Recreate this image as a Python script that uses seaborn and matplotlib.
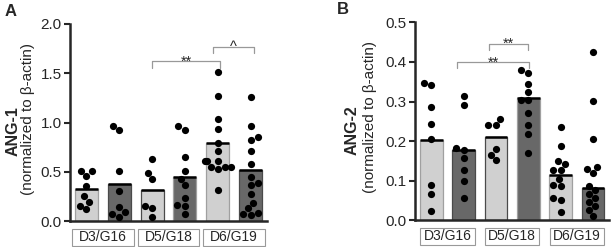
import numpy as np
import pandas as pd
import seaborn as sns
import matplotlib.pyplot as plt
import matplotlib.transforms as mtransforms
from matplotlib.patches import Rectangle

groups = ["D3/G16", "D5/G18", "D6/G19"]
shades = ["light", "dark"]
kleur = {"light": "#d0d0d0", "dark": "#686868"}
rand = {"light": "#a0a0a0", "dark": "#4a4a4a"}

# ANG-1, losse waarden per staaf (links->rechts)
a_d3_light = [0.51, 0.51, 0.46, 0.36, 0.25, 0.19, 0.15, 0.12]
a_d3_dark = [0.96, 0.92, 0.51, 0.31, 0.146, 0.095, 0.07, 0.044]
a_d5_light = [0.63, 0.49, 0.43, 0.156, 0.13, 0.037]
a_d5_dark = [0.96, 0.925, 0.65, 0.51, 0.43, 0.366, 0.23, 0.163, 0.156, 0.07]
a_d6_light = [1.515, 1.264, 1.034, 0.936, 0.79, 0.715, 0.61, 0.61, 0.61,
              0.553, 0.546, 0.553, 0.525, 0.315]
a_d6_dark = [1.258, 0.96, 0.85, 0.82, 0.715, 0.58, 0.45, 0.383, 0.366,
             0.275, 0.186, 0.129, 0.078, 0.07, 0.06]
a_bar = [0.325, 0.38, 0.315, 0.45, 0.79, 0.52]

# ANG-2
b_d3_light = [0.347, 0.341, 0.286, 0.2425, 0.206, 0.09, 0.067, 0.023]
b_d3_dark = [0.313, 0.29, 0.183, 0.177, 0.156, 0.126, 0.0985, 0.056]
b_d5_light = [0.255, 0.24, 0.24, 0.18, 0.165, 0.152]
b_d5_dark = [0.38, 0.372, 0.345, 0.324, 0.305, 0.305, 0.271, 0.24, 0.219, 0.17]
b_d6_light = [0.236, 0.187, 0.150, 0.141, 0.126, 0.126, 0.103, 0.090,
              0.085, 0.055, 0.052, 0.021]
b_d6_dark = [0.425, 0.302, 0.205, 0.135, 0.13, 0.12, 0.086, 0.075, 0.065,
             0.055, 0.045, 0.035, 0.025, 0.01]
b_bar = [0.202, 0.177, 0.211, 0.309, 0.114, 0.08]


def tabellen(punten, staven):
    rij_p, rij_s = [], []
    for i, vals in enumerate(punten):
        g, s = divmod(i, 2)
        pos = g + (s - 0.5) * 0.5
        rij_s.append((pos, shades[s], staven[i]))
        for v in vals:
            rij_p.append((pos, shades[s], v))
    return (pd.DataFrame(rij_p, columns=["pos", "shade", "value"]),
            pd.DataFrame(rij_s, columns=["pos", "shade", "value"]))


def paneel(ax, punten, staven, ymax, ystap, naam, letter, lab_x, box_hw, haken):
    df_p, df_s = tabellen(punten, staven)
    sns.barplot(data=df_s, x="pos", y="value", hue="shade", palette=kleur,
                native_scale=True, dodge=False, width=0.7, errorbar=None,
                legend=False, ax=ax, zorder=2)
    for p, sh in zip(ax.patches, df_s["shade"]):
        p.set_edgecolor(rand[sh])
        p.set_linewidth(0.9)
        ax.plot([p.get_x(), p.get_x() + p.get_width()], [p.get_height()] * 2,
                color="black", lw=1.8, solid_capstyle="butt", zorder=3)
    sns.swarmplot(data=df_p, x="pos", y="value", native_scale=True,
                  color="black", size=5.2, ax=ax, zorder=4)
    ax.set_xlim(-0.5, 2.5)
    ax.set_ylim(0, ymax)
    ticks = np.arange(0, ymax + ystap / 2, ystap)
    ax.set_yticks(ticks)
    ax.set_yticklabels([f"{t:.1f}" for t in ticks])
    ax.set_xticks([])
    ax.set_xlabel("")
    ax.set_ylabel("")
    sns.despine(ax=ax)
    for sp in ["left", "bottom"]:
        ax.spines[sp].set_linewidth(1.8)
    ax.tick_params(axis="y", width=1.5, length=4, labelsize=11, pad=2)

    # groepslabels in kaders
    tr = mtransforms.blended_transform_factory(ax.transData, ax.transAxes)
    for g, naam_g in enumerate(groups):
        ax.add_patch(Rectangle((g - box_hw, -0.124), 2 * box_hw, 0.086,
                               transform=tr, clip_on=False, facecolor="white",
                               edgecolor="#999999", lw=0.8))
        ax.text(g, -0.083, naam_g, transform=tr, ha="center", va="center",
                fontsize=10)

    # significantie
    for x0, x1, y, dy, tekst in haken:
        ax.plot([x0, x0, x1, x1], [y - dy, y, y, y - dy], color="#999999",
                lw=0.9, clip_on=False)
        ax.annotate(tekst, ((x0 + x1) / 2, y), xytext=(0, -3.2),
                    textcoords="offset points", ha="center", va="baseline",
                    fontsize=10.5, annotation_clip=False)

    ax.text(lab_x[0], 0.457, naam, transform=ax.transAxes, rotation=90,
            ha="center", va="center", fontsize=11.5, fontweight="bold")
    ax.text(lab_x[1], 0.52, "(normalized to β-actin)", transform=ax.transAxes,
            rotation=90, ha="center", va="center", fontsize=11)
    ax.text(lab_x[2], 1.065, letter, transform=ax.transAxes, ha="center",
            va="center", fontsize=12, fontweight="bold")


sns.set_style("ticks")
plt.rcParams["font.family"] = ["Liberation Sans", "DejaVu Sans"]

fig = plt.figure(figsize=(6.14, 2.47), dpi=100)
ax_a = fig.add_axes([0.114, 0.105, 0.321, 0.798])
ax_b = fig.add_axes([0.676, 0.109, 0.316, 0.800])

paneel(ax_a,
       [a_d3_light, a_d3_dark, a_d5_light, a_d5_dark, a_d6_light, a_d6_dark],
       a_bar, 2.0, 0.5, "ANG-1", "A", (-0.29, -0.213, -0.30), 0.47,
       [(0.75, 1.78, 1.62, 0.065, "**"), (1.68, 2.3, 1.77, 0.065, "^")])
paneel(ax_b,
       [b_d3_light, b_d3_dark, b_d5_light, b_d5_dark, b_d6_light, b_d6_dark],
       b_bar, 0.5, 0.1, "ANG-2", "B", (-0.325, -0.232, -0.37), 0.42,
       [(0.15, 1.26, 0.40, 0.016, "**"), (0.65, 1.25, 0.446, 0.016, "**")])

fig.savefig("out.png", dpi=100)
